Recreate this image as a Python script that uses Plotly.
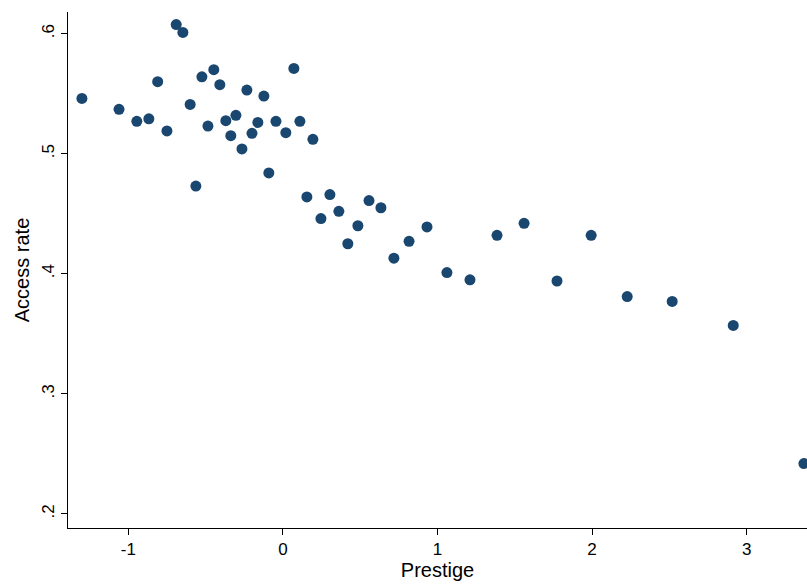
import plotly.graph_objects as go

prestige = [-1.30, -1.06, -0.945, -0.867, -0.81, -0.75, -0.69, -0.647, -0.60, -0.563,
            -0.524, -0.485, -0.447, -0.408, -0.369, -0.337, -0.304, -0.265, -0.233, -0.20,
            -0.162, -0.123, -0.091, -0.045, 0.019, 0.071, 0.11, 0.194, 0.155, 0.246,
            0.304, 0.362, 0.42, 0.485, 0.557, 0.634, 0.718, 0.816, 0.932, 1.061,
            1.21, 1.385, 1.56, 1.773, 1.994, 2.227, 2.518, 2.913, 3.37]
access = [0.546, 0.537, 0.527, 0.529, 0.560, 0.519, 0.6075, 0.601, 0.541, 0.473,
          0.564, 0.523, 0.570, 0.5575, 0.5275, 0.515, 0.532, 0.504, 0.553, 0.517,
          0.526, 0.548, 0.484, 0.527, 0.5175, 0.571, 0.527, 0.512, 0.464, 0.446,
          0.466, 0.452, 0.425, 0.44, 0.461, 0.455, 0.413, 0.427, 0.439, 0.401,
          0.395, 0.432, 0.442, 0.394, 0.432, 0.381, 0.377, 0.357, 0.242]

fig = go.Figure(go.Scatter(
    x=prestige, y=access, mode="markers",
    marker=dict(color="#1a476f", size=11),
    cliponaxis=False,
))

fig.update_layout(
    width=807, height=586,
    margin=dict(l=68, r=0, t=12, b=58, autoexpand=False),
    plot_bgcolor="white", paper_bgcolor="white",
    font=dict(family="Liberation Sans, Arial", size=17, color="black"),
    showlegend=False,
)
fig.update_xaxes(
    range=[-1.39, 3.39], tickvals=[-1, 0, 1, 2, 3],
    ticktext=["-1", "0", "1", "2", "3"], automargin=False,
    showgrid=False, zeroline=False, showline=True, linecolor="black",
    ticks="outside", ticklen=6, tickcolor="black",
    title=dict(text="Prestige", standoff=4),
)
fig.update_yaxes(
    range=[0.1883, 0.618], tickvals=[0.2, 0.3, 0.4, 0.5, 0.6],
    ticktext=[".2", ".3", ".4", ".5", ".6"], tickangle=-90, automargin=False,
    showgrid=False, zeroline=False, showline=True, linecolor="black",
    ticks="outside", ticklen=6, tickcolor="black",
    title=dict(text="Access rate", standoff=4),
)

fig.write_html("out.html", config={"displayModeBar": False},
               post_script="document.body.style.margin='0';document.body.style.overflow='hidden';")
